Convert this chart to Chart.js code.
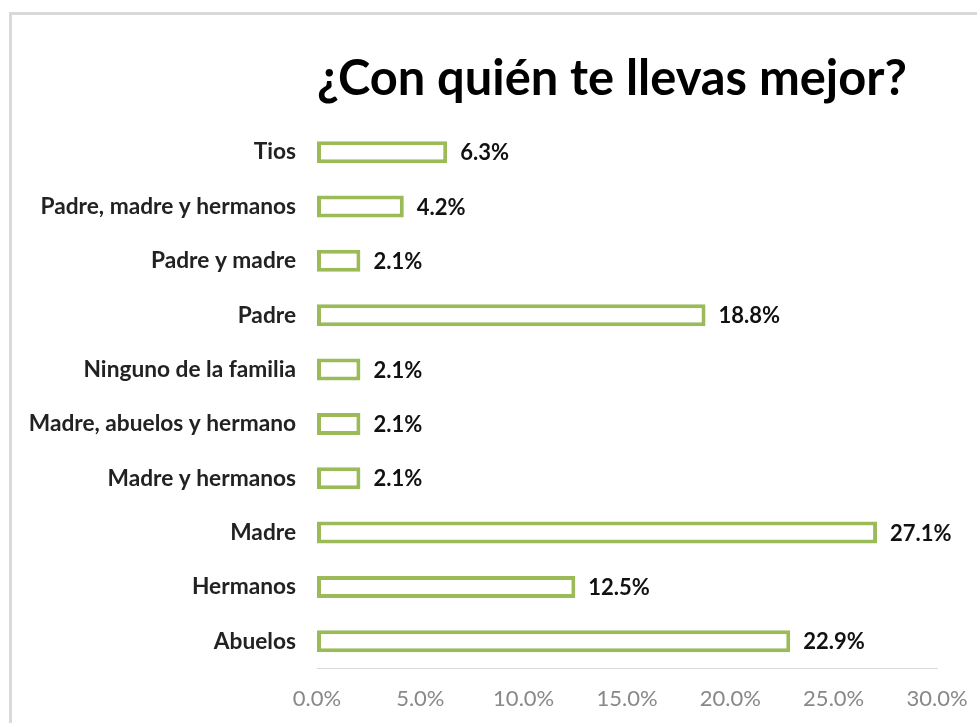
<!DOCTYPE html>
<html lang="es">
<head>
<meta charset="utf-8">
<title>¿Con quién te llevas mejor?</title>
<script src="https://cdn.jsdelivr.net/npm/chart.js@4.4.1/dist/chart.umd.min.js"></script>
<style>
  html, body { margin: 0; padding: 0; background: #fff; overflow: hidden; }
  #frame {
    position: absolute; left: 9px; top: 12px; width: 1000px; height: 760px;
    border-left: 3px solid #d9d9d9; border-top: 3px solid #d9d9d9;
  }
  #chart { position: absolute; left: 0; top: 0; }
</style>
</head>
<body>
<div id="frame"></div>
<canvas id="chart" width="977" height="723"></canvas>
<script>
/* ── Data (top bar first) ── */
const categories = [
  'Tios', 'Padre, madre y hermanos', 'Padre y madre', 'Padre',
  'Ninguno de la familia', 'Madre, abuelos y hermano', 'Madre y hermanos',
  'Madre', 'Hermanos', 'Abuelos'
];
const shares = [6.3, 4.2, 2.1, 18.8, 2.1, 2.1, 2.1, 27.1, 12.5, 22.9];
const axisTicks = [0, 5, 10, 15, 20, 25, 30];

const FONT = 'Lato';
const GREEN = '#9bbb59';

// value labels at the end of each bar (no datalabels plugin available)
const barValueLabels = {
  id: 'barValueLabels',
  afterDatasetsDraw(chart) {
    const ctx = chart.ctx;
    const meta = chart.getDatasetMeta(0);
    ctx.save();
    ctx.font = 'bold 22px ' + FONT;
    ctx.fillStyle = '#111';
    ctx.textAlign = 'left';
    ctx.textBaseline = 'middle';
    meta.data.forEach((bar, i) => {
      ctx.fillText(shares[i].toFixed(1) + '%', bar.x + 13, bar.y + 1);
    });
    ctx.restore();
  }
};

function draw() {
  new Chart(document.getElementById('chart'), {
    type: 'bar',
    data: {
      labels: categories,
      datasets: [{
        data: shares,
        backgroundColor: '#ffffff',
        borderColor: GREEN,
        borderWidth: 4,
        borderSkipped: false,
        barPercentage: 0.405,
        categoryPercentage: 1
      }]
    },
    options: {
      indexAxis: 'y',
      responsive: false,
      animation: false,
      layout: { padding: { top: 40, right: 40, bottom: 0, left: 0 } },
      plugins: {
        legend: { display: false },
        tooltip: { enabled: false },
        title: {
          display: true,
          text: '¿Con quién te llevas mejor?',
          align: 'start',
          fullSize: false,
          color: '#000',
          font: { family: FONT, size: 48.8, weight: 'bold' },
          padding: { top: 10.1, bottom: 16.3 }
        }
      },
      scales: {
        x: {
          min: 0,
          max: 30,
          afterBuildTicks(scale) { scale.ticks = axisTicks.map(v => ({ value: v })); },
          afterFit(scale) {
            scale.height = 54.5;
            scale.paddingLeft = 0;
            scale.paddingRight = 0;
          },
          grid: { display: false, drawTicks: false },
          border: { display: true, color: '#d9d9d9', width: 1 },
          ticks: {
            padding: 17,
            color: '#888',
            font: { family: FONT, size: 22 },
            callback: v => v.toFixed(1) + '%'
          }
        },
        y: {
          afterFit(scale) { scale.width = 317; },
          grid: { display: false, drawTicks: false },
          border: { display: false },
          ticks: {
            padding: 21,
            color: '#222',
            font: { family: FONT, size: 22.7, weight: 'bold' }
          }
        }
      }
    },
    plugins: [barValueLabels]
  });
}

document.fonts.load('bold 22px ' + FONT).then(draw, draw);
</script>
</body>
</html>
